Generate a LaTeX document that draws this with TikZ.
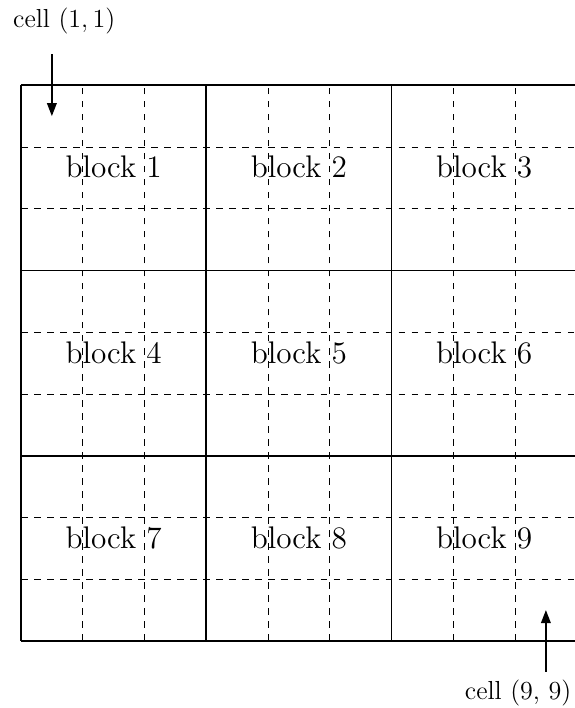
\documentclass[tikz,border=0pt]{standalone}
\usetikzlibrary{arrows.meta}

\begin{document}
\begin{tikzpicture}[thick]
  \useasboundingbox (-0.34,-1.085) rectangle (8.97,10.38);

  % cell lines
  \foreach \i in {1,2,4,5,7,8} {
    \draw[thin, dashed] (\i,0) -- (\i,9);
    \draw[thin, dashed] (0,\i) -- (9,\i);
  }

  % block lines
  \foreach \i in {0,3,6,9} {
    \draw (\i,0) -- (\i,9);
    \draw (0,\i) -- (9,\i);
  }

  % block names
  \foreach \r in {0,1,2} {
    \foreach \c in {0,1,2} {
      \pgfmathtruncatemacro{\n}{3*\r+\c+1}
      \node[font=\Large, anchor=base] (blk\n) at ({3*\c+1.5},{7.5-3*\r}) {block \n};
    }
  }

  % first and last cell
  \coordinate (s11) at (0.5,9.5);
  \coordinate (c11) at (0.5,8.5);   % centre of cell (1,1)
  \coordinate (s99) at (8.5,-0.5);
  \coordinate (c99) at (8.5,0.5);   % centre of cell (9,9)

  \draw[semithick, -{Triangle[length=6pt,width=4.5pt]}] (s11) -- (c11);
  \draw[semithick, -{Triangle[length=6pt,width=4.5pt]}] (s99) -- (c99);

  \node[font=\large, anchor=base] (l11) at (0.7,9.94) {cell $(1,1)$};
  \node[font=\large, anchor=base] (l99) at (8.05,-0.955) {cell (9, 9)};
\end{tikzpicture}
\end{document}
